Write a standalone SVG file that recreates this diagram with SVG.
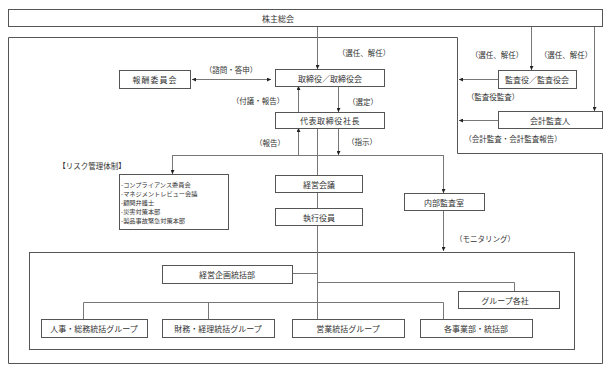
<svg xmlns="http://www.w3.org/2000/svg" width="611" height="372" viewBox="0 0 611 372">
<defs>
<marker id="ah" viewBox="0 0 6 6" refX="6" refY="3" markerWidth="4" markerHeight="4" orient="auto-start-reverse" markerUnits="userSpaceOnUse"><path d="M0,0 L6,3 L0,6 Z" fill="#222"/></marker>
<style>
.b{fill:#fff;stroke:#555;stroke-width:1}
.f{fill:none;stroke:#555;stroke-width:1}
.c{fill:none;stroke:#777;stroke-width:1}
.a{fill:none;stroke:#777;stroke-width:1;marker-end:url(#ah)}
.t{font-family:"Noto Sans CJK JP","Noto Sans",sans-serif;font-size:8px;fill:#333;text-anchor:middle;dominant-baseline:central}
.l{font-family:"Noto Sans CJK JP","Noto Sans",sans-serif;font-size:7.5px;fill:#333;text-anchor:middle;dominant-baseline:central}
.s{font-family:"Noto Sans CJK JP","Noto Sans",sans-serif;font-size:6.2px;fill:#333;dominant-baseline:central}
</style>
</defs>
<rect width="611" height="372" fill="#fff"/>
<g id="frames">
<path class="f" d="M8.5,37.5 H457.5 V153.5 H602.5 V363.5 H8.5 Z"/>
<rect class="f" x="29.5" y="252.5" width="545" height="97"/>
</g>
<g id="connectors">
<path class="a" d="M317.5,27 V69"/>
<path class="a" d="M531.5,27 V70"/>
<path class="a" d="M594.5,27 V111"/>
<path class="a" d="M498,79.5 H459"/>
<path class="a" d="M498,120.5 H459"/>
<path class="c" d="M192,79.5 H271" style="marker-start:url(#ah);marker-end:url(#ah)"/>
<path class="a" d="M298.5,112 V86"/>
<path class="a" d="M338.5,86 V112"/>
<path class="a" d="M298.5,155 V128"/>
<path class="a" d="M338.5,128 V155"/>
<path class="c" d="M172.5,155.5 H443.5"/>
<path class="a" d="M172.5,155 V174"/>
<path class="a" d="M443.5,155 V193"/>
<path class="a" d="M443.5,210 V251"/>
<path class="c" d="M317.5,128 V319"/>
<path class="c" d="M292,273.5 H317.5"/>
<path class="c" d="M317.5,282.5 H514.5 V291"/>
<path class="c" d="M83.5,319 V302.5 H443.5 V319"/>
<path class="c" d="M208.5,302.5 V319"/>
</g>
<g id="n-kabunushi"><rect class="b" x="8.5" y="9.5" width="594" height="17"/><text class="t" x="278" y="18">株主総会</text></g>
<g id="n-hoshu"><rect class="b" x="119.5" y="70.5" width="71" height="18"/><text class="t" x="155" y="79.5" letter-spacing="1">報酬委員会</text></g>
<g id="n-torishimari"><rect class="b" x="275.5" y="69.5" width="109" height="17"/><text class="t" x="330" y="78">取締役／取締役会</text></g>
<g id="n-daihyo"><rect class="b" x="275.5" y="112.5" width="109" height="16"/><text class="t" x="330" y="120.5" letter-spacing="0.6">代表取締役社長</text></g>
<g id="n-kansayaku"><rect class="b" x="498.5" y="70.5" width="78" height="18"/><text class="t" x="537" y="79.5">監査役／監査役会</text></g>
<g id="n-kaikei"><rect class="b" x="498.5" y="111.5" width="104" height="17"/><text class="t" x="550" y="120">会計監査人</text></g>
<g id="n-risk"><rect class="b" x="119.5" y="174.5" width="109" height="55"/>
<text class="s" x="121" y="184">-コンプライアンス委員会</text>
<text class="s" x="121" y="193">-マネジメントレビュー会議</text>
<text class="s" x="121" y="202">-顧問弁護士</text>
<text class="s" x="121" y="211">-災害対策本部</text>
<text class="s" x="121" y="220">-製品事故緊急対策本部</text>
</g>
<g id="n-keiei"><rect class="b" x="275.5" y="175.5" width="87" height="17"/><text class="t" x="319" y="184">経営会議</text></g>
<g id="n-shikko"><rect class="b" x="275.5" y="208.5" width="87" height="17"/><text class="t" x="319" y="217">執行役員</text></g>
<g id="n-naibu"><rect class="b" x="404.5" y="193.5" width="80" height="17"/><text class="t" x="444" y="202">内部監査室</text></g>
<g id="n-kikaku"><rect class="b" x="162.5" y="265.5" width="130" height="18"/><text class="t" x="227" y="274.5">経営企画統括部</text></g>
<g id="n-group"><rect class="b" x="458.5" y="291.5" width="101" height="17"/><text class="t" x="505" y="300">グループ各社</text></g>
<g id="n-jinji"><rect class="b" x="41.5" y="319.5" width="106" height="18"/><text class="t" x="94" y="328.5">人事・総務統括グループ</text></g>
<g id="n-zaimu"><rect class="b" x="162.5" y="319.5" width="112" height="18"/><text class="t" x="218" y="328.5">財務・経理統括グループ</text></g>
<g id="n-eigyo"><rect class="b" x="292.5" y="319.5" width="112" height="18"/><text class="t" x="348" y="328.5">営業統括グループ</text></g>
<g id="n-jigyo"><rect class="b" x="420.5" y="319.5" width="112" height="18"/><text class="t" x="476" y="328.5">各事業部・統括部</text></g>
<g id="labels">
<text class="l" x="364" y="52">（選任、解任）</text>
<text class="l" x="497" y="54">（選任、解任）</text>
<text class="l" x="566" y="54">（選任、解任）</text>
<text class="l" x="231" y="69">（諮問・答申）</text>
<text class="l" x="258" y="100">（付議・報告）</text>
<text class="l" x="363" y="101">（選定）</text>
<text class="l" x="493" y="96">（監査役監査）</text>
<text class="l" x="270" y="142">（報告）</text>
<text class="l" x="362" y="141">（指示）</text>
<text class="l" x="513" y="138">（会計監査・会計監査報告）</text>
<text class="l" x="92" y="165">【リスク管理体制】</text>
<text class="l" x="485" y="238">（モニタリング）</text>
</g>
</svg>
